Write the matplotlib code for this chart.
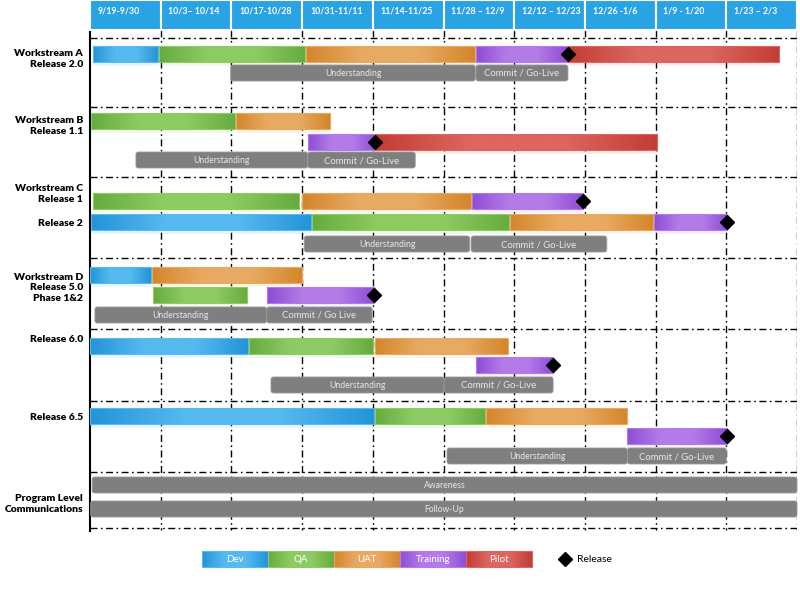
import matplotlib
matplotlib.use("Agg")
import matplotlib.pyplot as plt
import numpy as np
from matplotlib.colors import LinearSegmentedColormap
from matplotlib.patches import Rectangle, FancyBboxPatch

# ---------------- data ----------------
periods = ["9/19-9/30", "10/3\u2013 10/14", "10/17-10/28", "10/31-11/11", "11/14-11/25",
           "11/28 \u2013 12/9", "12/12 \u2013 12/23", "12/26 -1/6", "1/9 - 1/20", "1/23 \u2013 2/3"]
phases = ["Dev", "QA", "UAT", "Training", "Pilot"]

# phase bars (start / end in period units, 1 = one two-week column)
bar_lane = ["A1", "A1", "A1", "A1", "A1",
            "B1", "B1", "B2", "B2",
            "C1", "C1", "C1",
            "C2", "C2", "C2", "C2",
            "D1", "D1", "D2", "D2",
            "E1", "E1", "E1", "E2",
            "F1", "F1", "F1", "F2"]
bar_phase = ["Dev", "QA", "UAT", "Training", "Pilot",
             "QA", "UAT", "Training", "Pilot",
             "QA", "UAT", "Training",
             "Dev", "QA", "UAT", "Training",
             "Dev", "UAT", "QA", "Training",
             "Dev", "QA", "UAT", "Training",
             "Dev", "QA", "UAT", "Training"]
bar_start = [0.04, 0.98, 3.06, 5.46, 6.76,
             0.01, 2.07, 3.08, 4.03,
             0.04, 3.00, 5.40,
             0.01, 3.14, 5.94, 7.98,
             0.00, 0.88, 0.89, 2.50,
             0.00, 2.25, 4.03, 5.46,
             0.00, 4.03, 5.60, 7.60]
bar_end = [0.96, 3.04, 5.45, 6.76, 9.75,
           2.05, 3.39, 4.03, 8.02,
           2.96, 5.39, 6.97,
           3.13, 5.93, 7.96, 9.01,
           0.86, 3.00, 2.22, 4.02,
           2.23, 4.00, 5.91, 6.55,
           4.02, 5.59, 7.60, 9.01]

# grey activity bars
act_lane = ["A2", "A2", "B3", "B3", "C3", "C3", "D3", "D3", "E3", "E3", "F3", "F3", "P1", "P2"]
act_label = ["Understanding", "Commit / Go-Live", "Understanding", "Commit / Go-Live",
             "Understanding", "Commit / Go-Live", "Understanding", "Commit / Go Live",
             "Understanding", "Commit / Go-Live", "Understanding", "Commit / Go-Live",
             "Awareness", "Follow-Up"]
act_start = [1.99, 5.46, 0.65, 3.08, 3.03, 5.39, 0.07, 2.50, 2.56, 5.01, 5.05, 7.60, 0.03, 0.01]
act_end = [5.45, 6.76, 3.08, 4.60, 5.37, 7.31, 2.50, 3.99, 5.01, 6.55, 7.60, 9.00, 10.0, 10.0]

# release milestones
rel_lane = ["A1", "B2", "C1", "C2", "D2", "E2", "F2"]
rel_x = [6.76, 4.03, 6.97, 9.01, 4.02, 6.55, 9.01]

row_labels = ["Workstream A\nRelease 2.0", "Workstream B\nRelease 1.1", "Workstream C\nRelease 1",
              "Release 2", "Workstream D\nRelease 5.0\nPhase 1&2", "Release 6.0", "Release 6.5",
              "Program Level\nCommunications"]

# ---------------- style / layout ----------------
colors = {
    "Dev": ("#2393D8", "#56B9F0"),
    "QA": ("#66AB3E", "#8DCB63"),
    "UAT": ("#D4852A", "#E8AA62"),
    "Training": ("#8E4CD6", "#B37BE7"),
    "Pilot": ("#C23C35", "#DC6660"),
}
lane_y = {"A1": 54, "A2": 73, "B1": 121, "B2": 142, "B3": 160,
          "C1": 201, "C2": 222, "C3": 244, "D1": 275, "D2": 295, "D3": 315,
          "E1": 346, "E2": 365, "E3": 385, "F1": 416, "F2": 436, "F3": 456,
          "P1": 485, "P2": 509}
label_y = [59, 126, 194, 223, 288, 339, 417, 504]
hlines = [38, 107, 177, 258, 329, 401, 472, 528]
BAR_H = 16
PX = 70.7  # pixels per period

fig = plt.figure(figsize=(8, 5.89), dpi=100)
ax = fig.add_axes([90 / 800, 0, 707 / 800, 1])
ax.set_xlim(0, 10)
ax.set_ylim(589, 0)
ax.axis("off")

FONT = "Lato"


def px2p(px):
    return (px - 90) / PX


def grad_bar(x0, x1, yc, h, phase, z=3, text=None):
    dark, light = colors[phase]
    cmap = LinearSegmentedColormap.from_list("g", [dark, light, light, dark])
    grad = np.linspace(0, 1, 256).reshape(1, -1)
    ax.imshow(grad, extent=[x0, x1, yc + h / 2, yc - h / 2], cmap=cmap,
              aspect="auto", zorder=z, interpolation="bicubic", clip_on=False)
    ax.add_patch(Rectangle((x0, yc - h / 2), x1 - x0, h, fill=False,
                           ec=light, lw=0.8, zorder=z + 0.1, clip_on=False))
    if text:
        ax.text((x0 + x1) / 2, yc + 0.5, text, ha="center", va="center", color="white",
                fontsize=7, fontfamily=FONT, zorder=z + 0.2, clip_on=False)


# header
for i, lab in enumerate(periods):
    ax.add_patch(Rectangle((i, 0), 1, 30, fc="#2AA3E4", ec="white", lw=1.5, zorder=2, clip_on=False))
    ax.text(i + 0.11, 11, lab, ha="left", va="center", color="white", fontsize=6.3,
            fontweight="bold", fontfamily=FONT, zorder=3)

# grid lines
dash = (0, (5, 2.5, 1.2, 2.5))
for y in hlines:
    ax.plot([0, 10], [y, y], color="black", lw=1, linestyle=dash, zorder=1)
for i in range(1, 11):
    ax.plot([i, i], [30, 530], color="black", lw=1, linestyle=dash, zorder=1)
ax.plot([0, 0], [30, 531], color="black", lw=1.5, zorder=1, clip_on=False)

# phase bars
for ln, ph, s, e in zip(bar_lane, bar_phase, bar_start, bar_end):
    yc = lane_y[ln]
    ax.add_patch(Rectangle((s, yc + BAR_H / 2), e - s, 4, fc=colors[ph][1], alpha=0.12,
                           ec="none", zorder=2))
    grad_bar(s, e, yc, BAR_H, ph)

# activity bars
for ln, lab, s, e in zip(act_lane, act_label, act_start, act_end):
    yc = lane_y[ln]
    ax.add_patch(FancyBboxPatch((s, yc - BAR_H / 2), e - s, BAR_H,
                                boxstyle="round,pad=0,rounding_size=0.035",
                                mutation_aspect=PX, fc="#7F7F7F", ec="#9A9A9A", lw=0.6,
                                zorder=2.5, clip_on=False))
    fs = 6.8 if "Commit" in lab else 6.2
    ax.text((s + e) / 2, yc + 0.5, lab, ha="center", va="center", color="#E8E8E8",
            fontsize=fs, fontfamily=FONT, zorder=2.6)

# releases
for ln, x in zip(rel_lane, rel_x):
    ax.plot(x, lane_y[ln], marker="D", ms=7.5, color="black", mec="black", zorder=5,
            clip_on=False)

# row labels
for lab, y in zip(row_labels, label_y):
    ax.text(px2p(83), y, lab, ha="right", va="center", fontsize=7.5, fontweight="heavy",
            fontfamily=FONT, linespacing=1.15, clip_on=False)

# legend
lx = px2p(202)
lw_ = 66 / PX
for i, ph in enumerate(phases):
    grad_bar(lx + i * lw_, lx + (i + 1) * lw_, 559, 16, ph, z=3, text=ph)
ax.plot(px2p(565), 559, marker="D", ms=7.5, color="black", zorder=5, clip_on=False)
ax.text(px2p(577), 559.5, "Release", ha="left", va="center", fontsize=7.5,
        fontfamily=FONT, clip_on=False)

fig.savefig("out.png", dpi=100)
